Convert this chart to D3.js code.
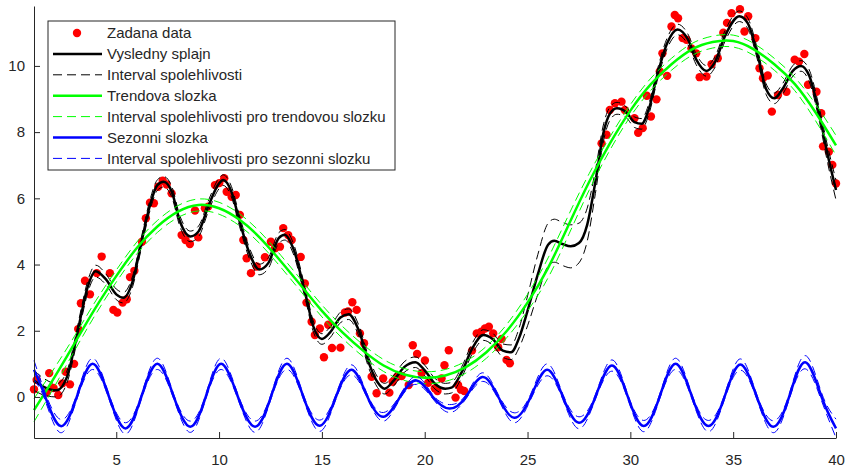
<!DOCTYPE html>
<html>
<head>
<meta charset="utf-8">
<script src="https://cdn.jsdelivr.net/npm/d3@7"></script>
<style>
  body { margin: 0; background: #fff; }
  svg { display: block; }
  text { font-family: "Liberation Sans", Arial, sans-serif; fill: #262626; }
</style>
</head>
<body>
<svg id="chart" width="846" height="468"></svg>
<script>
// measured points (x, y)
var dataX = [1.00,1.13,1.62,1.74,1.95,2.18,2.38,2.54,2.75,2.95,3.15,3.28,3.48,3.72,4.05,4.29,4.69,4.86,5.05,5.31,5.51,5.67,5.88,6.25,6.44,6.64,6.83,7.04,7.26,7.45,7.69,8.18,8.37,8.58,8.83,8.99,9.31,9.47,9.80,10.01,10.25,10.37,10.61,10.81,11.01,11.18,11.34,11.55,11.83,12.23,12.52,12.72,12.96,13.12,13.36,13.53,13.97,14.17,14.25,14.50,14.66,14.90,15.10,15.31,15.49,15.90,16.12,16.27,16.48,16.69,16.85,17.05,17.42,17.66,17.98,18.28,18.44,18.66,18.88,19.22,19.42,19.63,19.85,20.01,20.17,20.49,20.62,20.82,20.96,21.17,21.50,21.62,21.76,21.92,22.30,22.53,22.75,22.93,23.12,23.33,23.57,23.74,23.98,24.14,28.60,28.84,29.00,29.25,29.57,29.73,30.20,30.38,30.60,30.80,31.00,31.27,31.43,31.56,31.79,32.00,32.16,32.32,32.54,32.73,32.97,33.20,33.37,33.70,33.95,34.25,34.52,34.70,34.92,35.33,35.55,35.73,36.08,36.28,36.45,36.68,36.88,37.18,37.59,37.99,38.20,38.46,38.64,39.05,39.28,39.37,39.65,39.82,40.00];
var dataY = [0.23,0.51,0.13,0.72,0.27,0.06,0.41,0.76,0.38,1.00,2.05,2.83,3.51,3.10,3.74,4.24,3.74,2.63,2.55,2.85,2.95,3.62,3.81,4.69,5.40,5.87,5.85,6.35,6.53,6.42,6.15,4.89,4.74,4.62,5.63,4.82,5.70,5.75,6.40,6.46,6.61,6.20,6.05,6.10,5.50,4.74,4.19,3.74,3.94,4.22,4.69,4.49,4.54,5.10,4.89,4.74,4.23,3.43,2.85,2.27,1.87,2.07,1.20,2.18,1.48,1.49,2.55,2.58,2.86,2.63,1.92,1.62,0.61,0.11,0.56,0.13,0.46,0.61,0.63,0.36,1.56,1.30,0.72,1.10,0.43,0.26,0.18,0.56,0.96,1.41,-0.02,0.36,0.22,0.18,1.40,1.92,1.97,2.07,2.12,1.92,1.50,1.75,1.12,1.02,7.66,7.92,8.67,8.87,8.92,8.67,8.42,7.98,8.12,9.10,8.47,8.99,9.83,10.38,9.70,11.19,11.54,11.44,10.84,10.79,10.53,10.38,9.66,9.68,10.05,10.23,11.00,11.30,11.59,11.71,11.04,11.50,10.84,9.93,9.63,9.71,8.62,9.12,9.22,10.19,10.13,10.36,9.43,9.22,8.57,7.57,7.41,7.01,6.45];

// resulting spline, with half width of its interval
var splineX = [1.0,1.5,2.1,2.6,3.0,3.3,3.6,4.0,4.5,5.0,5.35,5.8,6.2,6.6,7.0,7.3,7.7,8.1,8.6,9.0,9.5,10.0,10.2,10.6,11.0,11.5,11.95,12.4,12.9,13.2,13.6,14.2,14.6,15.0,15.4,15.9,16.3,16.8,17.3,17.7,18.05,18.5,19.0,19.55,20.0,20.5,21.0,21.3,21.8,22.3,22.85,23.3,23.8,24.2,24.6,25.0,25.5,26.0,26.3,26.7,27.1,27.5,27.9,28.3,28.7,29.0,29.35,29.8,30.2,30.55,30.9,31.3,31.8,32.3,32.8,33.2,33.7,34.1,34.6,35.3,35.7,36.2,36.6,37.0,37.4,37.9,38.3,38.7,39.2,39.6,40.0];
var splineY = [0.50,0.30,0.20,0.60,1.60,2.50,3.30,3.80,3.55,3.10,3.00,3.50,4.60,5.70,6.40,6.50,6.20,5.30,4.85,5.00,5.80,6.45,6.55,6.20,5.30,4.30,3.85,4.05,4.80,4.90,4.50,3.10,2.10,1.75,1.95,2.40,2.50,2.00,1.00,0.45,0.25,0.50,0.90,1.05,0.80,0.40,0.25,0.28,0.75,1.45,1.87,1.75,1.40,1.35,1.80,2.60,3.70,4.60,4.72,4.62,4.55,4.65,5.20,6.50,8.00,8.55,8.72,8.60,8.30,8.25,8.70,9.70,10.70,11.10,10.80,10.20,9.85,10.10,10.90,11.50,11.30,10.30,9.30,9.02,9.30,9.85,10.00,9.70,8.50,7.30,6.25];
var splineCI = [0.30,0.25,0.20,0.18,0.18,0.18,0.18,0.18,0.16,0.16,0.16,0.16,0.16,0.16,0.16,0.16,0.16,0.16,0.16,0.16,0.16,0.16,0.16,0.16,0.16,0.16,0.16,0.16,0.16,0.16,0.16,0.16,0.16,0.16,0.16,0.16,0.16,0.16,0.16,0.16,0.16,0.16,0.16,0.16,0.16,0.16,0.16,0.16,0.16,0.16,0.16,0.18,0.20,0.22,0.30,0.45,0.60,0.65,0.65,0.65,0.65,0.60,0.50,0.35,0.25,0.20,0.18,0.16,0.16,0.16,0.16,0.16,0.16,0.16,0.16,0.16,0.16,0.16,0.16,0.16,0.16,0.16,0.16,0.16,0.16,0.16,0.16,0.18,0.20,0.25,0.30];

// trend component
var trendX = [1,2,3,4,5,6,7,8,9,10,11,12,13,14,15,16,17,18,19,20,21,22,23,24,25,26,27,28,29,30,31,32,33,34,35,36,37,38,39,40];
var trendY = [-0.40,0.60,1.65,2.70,3.65,4.50,5.15,5.60,5.80,5.70,5.35,4.80,4.10,3.35,2.60,1.95,1.40,0.95,0.68,0.58,0.65,0.90,1.35,2.00,2.85,3.90,5.20,6.50,7.65,8.65,9.45,10.05,10.50,10.72,10.75,10.50,10.05,9.45,8.60,7.60];
var trendCI = [0.35,0.28,0.22,0.20,0.18,0.18,0.18,0.18,0.18,0.18,0.18,0.18,0.18,0.18,0.18,0.18,0.18,0.18,0.18,0.18,0.18,0.18,0.18,0.20,0.25,0.30,0.30,0.25,0.20,0.18,0.18,0.18,0.18,0.18,0.18,0.18,0.18,0.20,0.25,0.30];

// seasonal component (peaks, zero crossings, troughs)
var seasonX = [1.0,1.55,2.3,3.08,3.85,4.65,5.45,6.22,7.0,7.8,8.6,9.35,10.1,10.92,11.75,12.52,13.3,14.1,14.9,15.68,16.45,17.22,18.0,18.8,19.6,20.4,21.2,22.0,22.8,23.58,24.35,25.15,25.95,26.72,27.5,28.3,29.1,29.88,30.65,31.42,32.2,33.0,33.8,34.58,35.35,36.15,36.95,37.72,38.5,39.3,40.0];
var seasonY = [0.82,0,-0.88,0,1.00,0,-0.95,0,1.00,0,-0.90,0,1.00,0,-0.90,0,1.00,0,-0.87,0,0.82,0,-0.60,0,0.50,0,-0.35,0,0.60,0,-0.63,0,0.82,0,-0.78,0,0.95,0,-0.88,0,1.00,0,-0.88,0,0.98,0,-0.90,0,1.05,0,-0.95];
var seasonCI = [0.28,0.12,0.20,0.08,0.17,0.07,0.17,0.07,0.17,0.07,0.17,0.07,0.17,0.07,0.17,0.07,0.17,0.07,0.17,0.07,0.15,0.06,0.13,0.06,0.12,0.06,0.12,0.06,0.13,0.07,0.15,0.08,0.18,0.08,0.18,0.07,0.17,0.07,0.17,0.07,0.17,0.07,0.17,0.07,0.17,0.07,0.18,0.08,0.20,0.12,0.28];

var xTicks = [5,10,15,20,25,30,35,40];
var yTicks = [0,2,4,6,8,10];
var legendLabels = ["Zadana data","Vysledny splajn","Interval spolehlivosti","Trendova slozka",
  "Interval spolehlivosti pro trendovou slozku","Sezonni slozka","Interval spolehlivosti pro sezonni slozku"];

var svg = d3.select("#chart");
var x = d3.scaleLinear().domain([1, 40]).range([34, 836]);
var y = d3.scaleLinear().domain([-1.24, 11.81]).range([438, 6]);
var axisColor = "#262626";

function zip(xs, ys, hw, sign) {
	return xs.map(function(v, i) { return [v, ys[i] + (hw ? sign * hw[i] : 0)]; });
}

var plot = svg.append("g");

// data points
plot.selectAll("circle.pt")
	.data(dataX.map(function(v, i) { return [v, dataY[i]]; }))
	.join("circle")
	.attr("class", "pt")
	.attr("cx", function(d) { return x(d[0]); })
	.attr("cy", function(d) { return y(d[1]); })
	.attr("r", 4.2)
	.attr("fill", "#ff0000");

function drawCurve(pts, color, width, dash, curve) {
	var line = d3.line()
		.x(function(d) { return x(d[0]); })
		.y(function(d) { return y(d[1]); })
		.curve(curve);
	plot.append("path")
		.attr("d", line(pts))
		.attr("fill", "none")
		.attr("stroke", color)
		.attr("stroke-width", width)
		.attr("stroke-dasharray", dash || null);
}

var dashPat = "9,5";

drawCurve(zip(splineX, splineY), "#000000", 2.5, null, d3.curveMonotoneX);
drawCurve(zip(splineX, splineY, splineCI, 1), "#000000", 1, dashPat, d3.curveMonotoneX);
drawCurve(zip(splineX, splineY, splineCI, -1), "#000000", 1, dashPat, d3.curveMonotoneX);

drawCurve(zip(trendX, trendY), "#00ff00", 2.5, null, d3.curveNatural);
drawCurve(zip(trendX, trendY, trendCI, 1), "#00ff00", 1, dashPat, d3.curveNatural);
drawCurve(zip(trendX, trendY, trendCI, -1), "#00ff00", 1, dashPat, d3.curveNatural);

drawCurve(zip(seasonX, seasonY), "#0000ff", 2.5, null, d3.curveNatural);
drawCurve(zip(seasonX, seasonY, seasonCI, 1), "#0000ff", 1, dashPat, d3.curveNatural);
drawCurve(zip(seasonX, seasonY, seasonCI, -1), "#0000ff", 1, dashPat, d3.curveNatural);

// axes, ticks pointing inward like matlab
var xAxis = svg.append("g")
	.attr("transform", "translate(0,438)")
	.call(d3.axisBottom(x).tickValues(xTicks).tickSizeInner(-6).tickSizeOuter(0).tickPadding(16));
var yAxis = svg.append("g")
	.attr("transform", "translate(34,0)")
	.call(d3.axisLeft(y).tickValues(yTicks).tickSizeInner(-6).tickSizeOuter(0).tickPadding(9));

[xAxis, yAxis].forEach(function(a) {
	a.select(".domain").attr("stroke", axisColor);
	a.selectAll(".tick line").attr("stroke", axisColor);
	a.selectAll(".tick text")
		.attr("fill", axisColor)
		.style("font-family", '"Liberation Sans", Arial, sans-serif')
		.style("font-size", "15px");
});

// legend
var leg = svg.append("g");
leg.append("rect")
	.attr("x", 48).attr("y", 21)
	.attr("width", 347).attr("height", 149)
	.attr("fill", "#fff")
	.attr("stroke", axisColor)
	.attr("stroke-width", 1);

var legStyles = [
	{type: "dot", color: "#ff0000"},
	{type: "line", color: "#000000", w: 2.5},
	{type: "line", color: "#000000", w: 1, dash: dashPat},
	{type: "line", color: "#00ff00", w: 2.5},
	{type: "line", color: "#00ff00", w: 1, dash: dashPat},
	{type: "line", color: "#0000ff", w: 2.5},
	{type: "line", color: "#0000ff", w: 1, dash: dashPat}
];

legendLabels.forEach(function(lab, i) {
	var yy = 33 + i * 20.9;
	var s = legStyles[i];
	if (s.type == "dot") {
		leg.append("circle").attr("cx", 77).attr("cy", yy).attr("r", 4.2).attr("fill", s.color);
	} else {
		leg.append("line")
			.attr("x1", 53).attr("x2", 102)
			.attr("y1", yy).attr("y2", yy)
			.attr("stroke", s.color)
			.attr("stroke-width", s.w)
			.attr("stroke-dasharray", s.dash || null);
	}
	leg.append("text")
		.attr("x", 107)
		.attr("y", yy)
		.attr("dy", "0.35em")
		.style("font-size", "15px")
		.text(lab);
});
</script>
</body>
</html>
